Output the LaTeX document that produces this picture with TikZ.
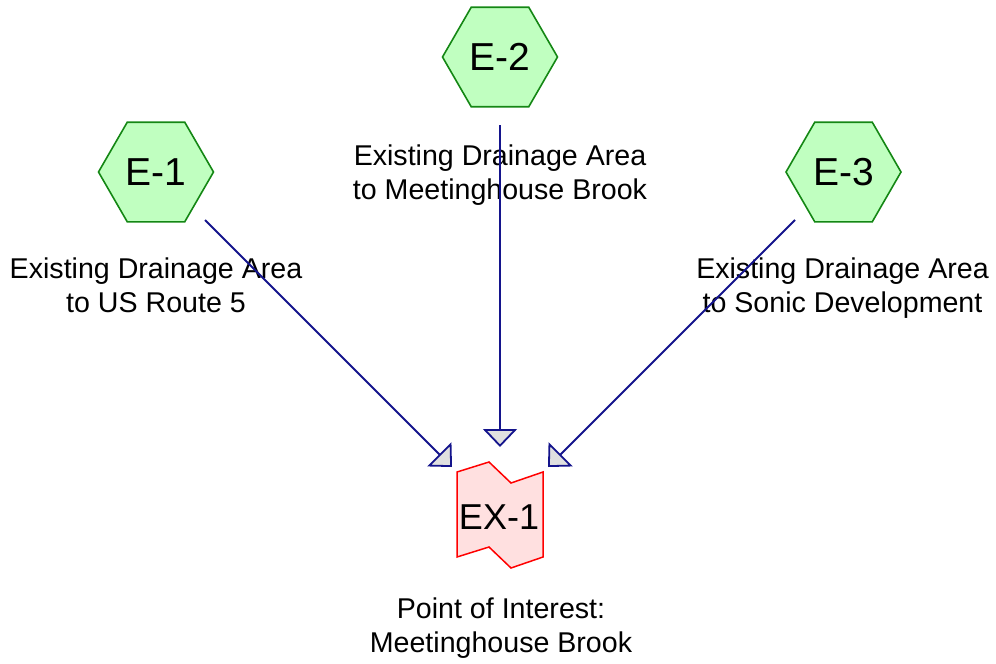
\documentclass[tikz,border=0pt]{standalone}
\usepackage{fontspec}
\setmainfont{Liberation Sans}
\usetikzlibrary{shapes.geometric,arrows.meta}
\definecolor{hexgreen}{RGB}{20,135,20}
\definecolor{hexfill}{RGB}{192,255,192}
\definecolor{flownavy}{RGB}{20,20,140}
\definecolor{arrowgray}{RGB}{224,224,224}
\definecolor{exfill}{RGB}{255,224,224}
\definecolor{exred}{RGB}{255,0,0}
\begin{document}
\begin{tikzpicture}[x=1pt,y=-1pt,
  hexnode/.style={regular polygon, regular polygon sides=6, minimum size=115pt,
    inner sep=0pt, draw=hexgreen, fill=hexfill, line width=1.6pt,
    font=\fontsize{39}{44}\selectfont},
  lbl/.style={align=center, font=\fontsize{28.6}{34}\selectfont, anchor=base, inner sep=0pt},
  extext/.style={inner sep=0pt, font=\fontsize{36}{40}\selectfont},
  flow/.style={draw=flownavy, line width=1.8pt,
    -{Triangle[length=18pt,width=34pt,fill=arrowgray]}}]
\useasboundingbox (0,0) rectangle (996,664);
% receiving node shape
\draw[draw=exred, fill=exfill, line width=1.5pt]
  (457,472) -- (489,462) -- (511,483) -- (543,472) -- (543,557)
  -- (511,568) -- (489,547) -- (457,557) -- cycle;
\node[extext] (ex1) at (499,517.5) {EX-1};
% subcatchments
\node[hexnode] (e1) at (156,172) {E-1};
\node[hexnode] (e2) at (500,57) {E-2};
\node[hexnode] (e3) at (843.5,172) {E-3};
% labels (anchor = baseline of the last line)
\node[lbl] (l1) at (156,312) {Existing Drainage Area\\to US Route 5};
\node[lbl] (l2) at (500,199) {Existing Drainage Area\\to Meetinghouse Brook};
\node[lbl] (l3) at (842.5,312) {Existing Drainage Area\\to Sonic Development};
\node[lbl] (l4) at (501,652) {Point of Interest:\\Meetinghouse Brook};
% connector end points
\coordinate (s1) at (205,220);
\coordinate (s2) at (500,125);
\coordinate (s3) at (795,220);
\coordinate (t1) at (452,467);
\coordinate (t2) at (500,447);
\coordinate (t3) at (548,467);
\draw[flow] (s1) -- (t1);
\draw[flow] (s2) -- (t2);
\draw[flow] (s3) -- (t3);
\end{tikzpicture}
\end{document}
